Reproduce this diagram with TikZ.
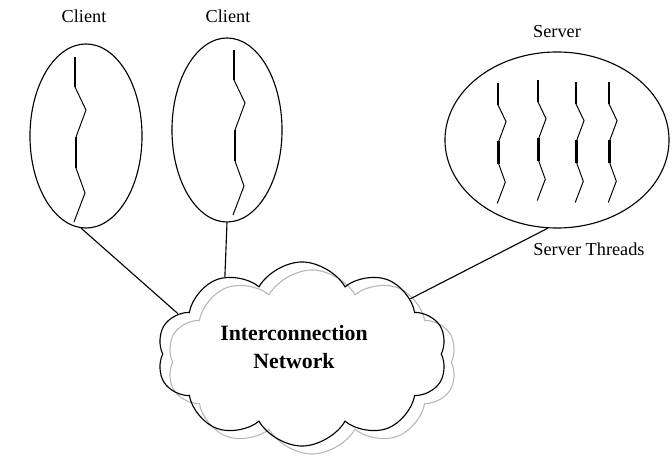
\documentclass[tikz,border=0pt]{standalone}
\usepackage{fontspec}
\setmainfont{Liberation Serif}
\usepackage{tikz}
\usetikzlibrary{positioning}
\usetikzlibrary{shapes.geometric}
\usetikzlibrary{shapes.symbols}
\tikzset{
        proc/.style={draw, ellipse, line width=0.8pt, inner sep=0pt},
        caption/.style={font=\fontsize{13}{15}\selectfont},
        netcloud/.style={cloud, cloud puffs=10, cloud puff arc=120, aspect=1.58,
          minimum width=7.25cm, minimum height=4.6cm, line width=0.8pt},
        link/.style={line width=0.8pt},
        thickseg/.style={line width=1.9pt},
        thinseg/.style={line width=0.7pt},
        thread/.pic={
          \draw[thickseg] (0,0) -- (0,30);
          \draw[thinseg] (0,30) -- (11,53) -- (1,80);
          \draw[thickseg] (1,80) -- (1,111);
          \draw[thinseg] (1,111) -- (10,136) -- (-1,165);
        },
}

\begin{document}
\begin{tikzpicture}[x=0.025cm, y=-0.025cm]
      \useasboundingbox (0,0) rectangle (672,459);
      % CLIENTS
      \node[proc, minimum width=2.8cm, minimum height=4.6cm] (c1) at (86,136) {};
      \node[proc, minimum width=2.75cm, minimum height=4.6cm] (c2) at (227,130) {};
      \node[caption] (c1lbl) at (84,16) {Client};
      \node[caption] (c2lbl) at (228,16) {Client};
      \pic at (75,57) {thread};
      \pic at (234,50) {thread};

      % SERVER
      \node[proc, minimum width=5.6cm, minimum height=4.4cm] (srv) at (557,140) {};
      \node[caption, above=0.22cm of srv] (srvlbl) {Server};
      \node[caption] (thr) at (589,249) {Server Threads};
      \foreach \x/\y in {498/83, 538/80, 576/82, 609/82}
        \pic[scale=0.73] at (\x,\y) {thread};

      % NETWORK
      \node[netcloud, draw=gray!55] (netbg) at (312,362) {};
      \node[netcloud, draw] (net) at (302,354) {};
      \node[align=center, font=\fontsize{15.5}{20}\bfseries] (nettxt) at (294,347)
        {Interconnection\\Network};

      % WIRING
      \draw[link] (c1.-93) -- (net.162);
      \draw[link] (c2.south) -- (net.135);
      \draw[link] (srv.-96) -- (net.27);
\end{tikzpicture}
\end{document}
